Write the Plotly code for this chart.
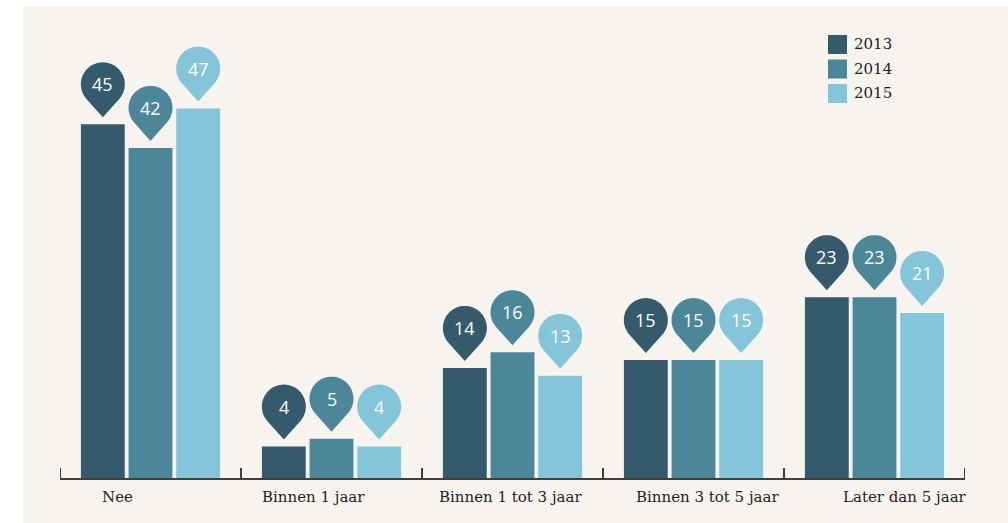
import math
import plotly.graph_objects as go

# Survey answers per year (percent)
categories = ["Nee", "Binnen 1 jaar", "Binnen 1 tot 3 jaar", "Binnen 3 tot 5 jaar", "Later dan 5 jaar"]
years = ["2013", "2014", "2015"]
values_2013 = [45, 4, 14, 15, 23]
values_2014 = [42, 5, 16, 15, 23]
values_2015 = [47, 4, 13, 15, 21]

series = [values_2013, values_2014, values_2015]
colors = ["#355a6b", "#4b8699", "#84c5d9"]
bg = "#f7f4f0"
axis_col = "#3f3f3f"

W, H = 1008, 523
M_L, M_R, M_T, M_B = 60, 43, 20, 45
PX_PER_UNIT = 7.86
plot_h = H - M_T - M_B
plot_w = W - M_L - M_R
y_max = plot_h / PX_PER_UNIT

BARGAP = 0.21
BARGROUPGAP = 0.08
slot = (1 - BARGAP) / len(series)

fig = go.Figure()
for name, vals, col in zip(years, series, colors):
    fig.add_trace(go.Bar(
        x=categories, y=vals, name=name, marker=dict(color=col, line=dict(width=0)),
        showlegend=False, hoverinfo="x+y+name",
    ))

shapes = []
annotations = []


def px_to_paper_x(px):
    return (px - M_L) / plot_w


def px_to_paper_y(py):
    return (H - M_B - py) / plot_h


# warm background panel
shapes.append(dict(type="rect", xref="paper", yref="paper",
                   x0=px_to_paper_x(23), x1=px_to_paper_x(W + 5),
                   y0=px_to_paper_y(6), y1=px_to_paper_y(H + 5),
                   fillcolor=bg, line=dict(width=0), layer="below"))

# end ticks of the category axis
for xb in (-0.5, len(categories) - 0.5):
    shapes.append(dict(type="line", xref="x", yref="y", ysizemode="pixel", yanchor=0,
                       x0=xb, x1=xb, y0=0, y1=10,
                       line=dict(color=axis_col, width=2)))

# pin-shaped value markers above each bar
R = 22         # radius of the round head
TIP = 33       # distance from head centre to tip
GAP = 7        # space between tip and bar top
phi = math.acos(R / TIP)
hc = GAP + TIP
pts = [(0, GAP)]
n_seg = 48
for j in range(n_seg + 1):
    t = phi + (2 * math.pi - 2 * phi) * j / n_seg
    pts.append((R * math.sin(t), hc - R * math.cos(t)))
pin_path = "M" + " L".join(f"{x:.2f},{y:.2f}" for x, y in pts) + " Z"

for k, (vals, col) in enumerate(zip(series, colors)):
    offset = (k - (len(series) - 1) / 2) * slot
    for i, v in enumerate(vals):
        xpos = i + offset
        shapes.append(dict(type="path", xref="x", yref="y",
                           xsizemode="pixel", ysizemode="pixel",
                           xanchor=xpos, yanchor=v, path=pin_path,
                           fillcolor=col, line=dict(width=0), layer="above"))
        annotations.append(dict(x=xpos, y=v, xref="x", yref="y", yshift=hc,
                                text=str(v), showarrow=False,
                                font=dict(family="Open Sans", size=18, color="white"),
                                xanchor="center", yanchor="middle"))

# category labels under the axis
label_font = dict(family="DejaVu Serif", size=15, color="#1e1e1e")
for i, cat in enumerate(categories):
    annotations.append(dict(x=-0.185 + 1.088 * i, y=0, xref="x", yref="y", yshift=-19,
                            text=cat, showarrow=False, font=label_font,
                            xanchor="center", yanchor="middle"))

# legend
for k, (name, col) in enumerate(zip(years, colors)):
    top = 35 + 24.5 * k
    shapes.append(dict(type="rect", xref="paper", yref="paper",
                       x0=px_to_paper_x(828), x1=px_to_paper_x(847),
                       y0=px_to_paper_y(top + 19), y1=px_to_paper_y(top),
                       fillcolor=col, line=dict(width=0)))
    annotations.append(dict(x=px_to_paper_x(852), y=px_to_paper_y(top + 9.5),
                            xref="paper", yref="paper", text=name, showarrow=False,
                            font=label_font, xanchor="left", yanchor="middle"))

fig.update_layout(
    width=W, height=H,
    margin=dict(l=M_L, r=M_R, t=M_T, b=M_B),
    paper_bgcolor="white", plot_bgcolor="rgba(0,0,0,0)",
    barmode="group", bargap=BARGAP, bargroupgap=BARGROUPGAP,
    shapes=shapes, annotations=annotations,
    xaxis=dict(range=[-0.5, len(categories) - 0.5], showline=True, linecolor=axis_col,
               linewidth=2, ticks="inside", ticklen=10, tickwidth=2, tickcolor=axis_col,
               tickson="boundaries", showticklabels=False, showgrid=False, zeroline=False),
    yaxis=dict(range=[0, y_max], visible=False, showgrid=False, zeroline=False),
)

fig.write_html("out.html")
